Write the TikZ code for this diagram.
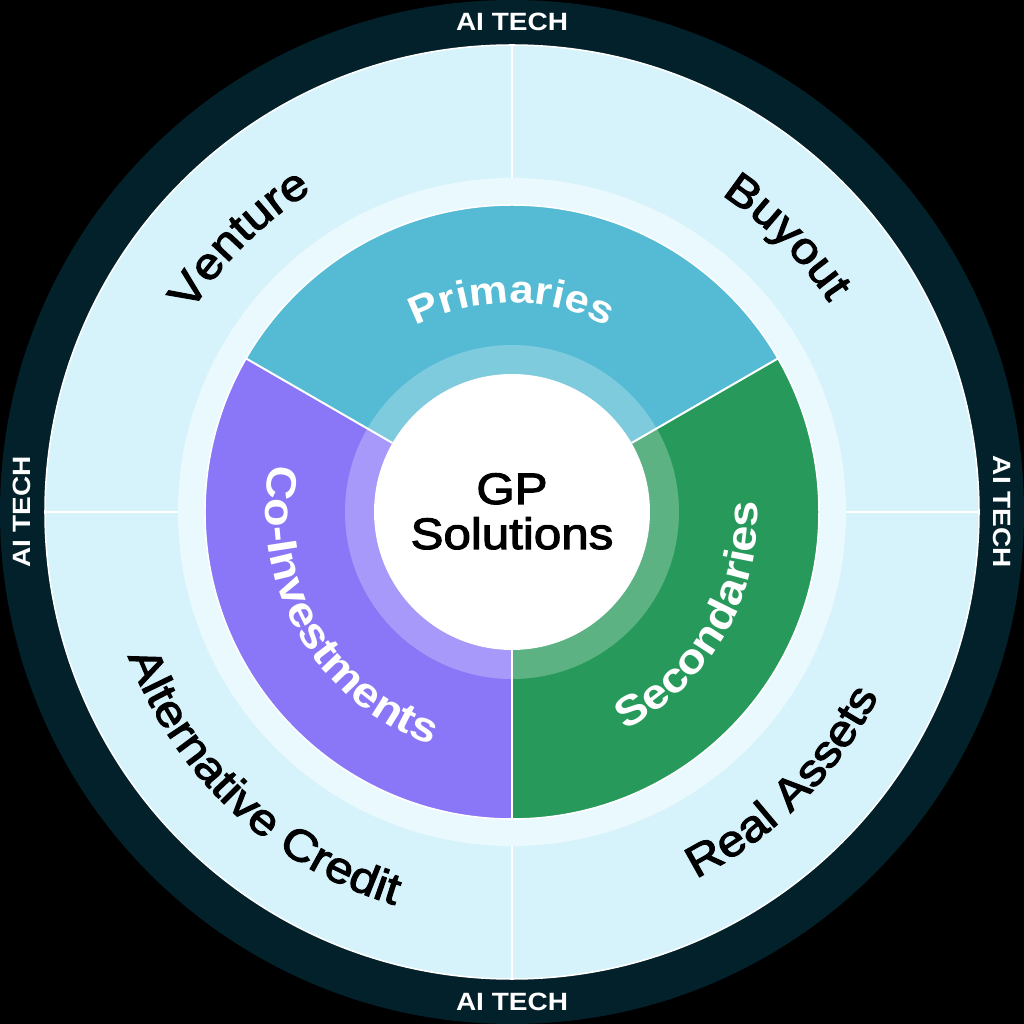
\documentclass[tikz,border=0pt]{standalone}
\usepackage{fontspec}
\setmainfont{Liberation Sans}
\newfontfamily\regfam[FakeStretch=1.12,FakeBold=2.5]{Liberation Sans}
\newfontfamily\boldfam[FakeStretch=1.12,UprightFont={* Bold}]{Liberation Sans}
\usetikzlibrary{decorations.text}
\definecolor{darkring}{HTML}{03212A}
\definecolor{lightdisk}{HTML}{D6F3FB}
\definecolor{palering}{HTML}{EAF9FE}
\definecolor{primcol}{HTML}{55BAD3}
\definecolor{coinvcol}{HTML}{8A77F7}
\definecolor{seccol}{HTML}{27995A}
\tikzset{
  sep/.style={white,line width=2pt},
  aitech/.style={text=white,inner sep=0pt,font=\boldfam\fontsize{25}{25}\selectfont},
  gptext/.style={text=black,inner sep=0pt,font=\regfam\fontsize{44}{44}\selectfont},
  seclabel/.style 2 args={decorate,decoration={text along path,text align=center,text color=white,
     text={|\boldfam\fontsize{#1}{#1}\selectfont|#2}}},
  outlabel/.style={decorate,decoration={text along path,text align=center,text color=black,
     text={|\regfam\fontsize{44}{44}\selectfont|#1}}}
}
\begin{document}
\begin{tikzpicture}[x=1pt,y=1pt]
\useasboundingbox (-512,-512) rectangle (512,512);
\fill[black] (-512,-512) rectangle (512,512);
% outer dark ring and light disk
\fill[darkring] (0,0) circle (512);
\fill[lightdisk] (0,0) circle (467);
\draw[white,line width=1.5pt] (0,0) circle (467);
% quadrant separators
\draw[sep] (90:330) -- (90:467);
\draw[sep] (180:330) -- (180:467);
\draw[sep] (270:330) -- (270:467);
\draw[sep] (0:330) -- (0:467);
% pale ring
\fill[palering] (0,0) circle (334);
% sectors
\fill[primcol] (0,0) -- (30:307) arc[start angle=30,end angle=150,radius=307] -- cycle;
\fill[coinvcol] (0,0) -- (150:307) arc[start angle=150,end angle=270,radius=307] -- cycle;
\fill[seccol] (0,0) -- (270:307) arc[start angle=270,end angle=390,radius=307] -- cycle;
\draw[white,line width=1.5pt] (0,0) circle (307);
% translucent inner ring
\fill[white,opacity=0.25,even odd rule] (0,0) circle (167) (0,0) circle (138);
% sector separators
\draw[sep] (30:138) -- (30:307);
\draw[sep] (150:138) -- (150:307);
\draw[sep] (270:138) -- (270:307);
% centre disk
\fill[white] (0,0) circle (138);
\node[gptext,anchor=base] (gp1) at (0,8) {GP};
\node[gptext,anchor=base] (gp2) at (0,-37) {Solutions};
% sector labels
\path[seclabel={39}{Primaries}] (150:209) arc[start angle=150,end angle=30,radius=209];
\path[seclabel={42}{Co-Investments}] (150:246) arc[start angle=150,end angle=270,radius=246];
\path[seclabel={42}{Secondaries}] (270:246) arc[start angle=270,end angle=390,radius=246];
% outer labels
\path[outlabel=Venture] (178:378) arc[start angle=178,end angle=92,radius=378];
\path[outlabel=Buyout] (88:380) arc[start angle=88,end angle=2,radius=380];
\path[outlabel=Alternative Credit] (182:410) arc[start angle=182,end angle=272,radius=410];
\path[outlabel=Real Assets] (270:410) arc[start angle=270,end angle=360,radius=410];
% AI TECH labels
\node[aitech] (ait) at (0,490) {AI TECH};
\node[aitech,rotate=90] (ail) at (-490,0) {AI TECH};
\node[aitech,rotate=-90] (air) at (490,0) {AI TECH};
\node[aitech] (aib) at (0,-490) {AI TECH};
\end{tikzpicture}
\end{document}
